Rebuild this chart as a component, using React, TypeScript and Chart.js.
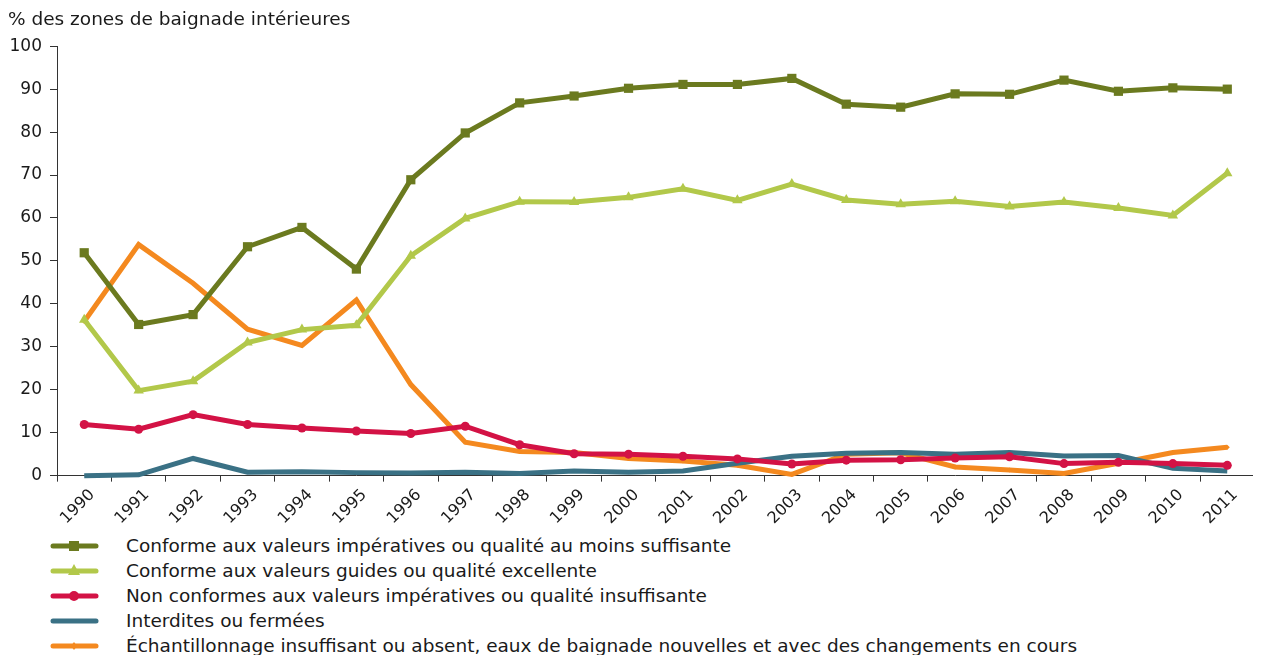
import React, { useEffect, useRef } from "react";
import { Chart, registerables } from "chart.js";

Chart.register(...registerables);

const years = ["1990","1991","1992","1993","1994","1995","1996","1997","1998","1999","2000","2001","2002","2003","2004","2005","2006","2007","2008","2009","2010","2011"];

const conformeImperatives = [51.9, 35.2, 37.5, 53.3, 57.8, 48.1, 68.9, 79.8, 86.8, 88.4, 90.2, 91.1, 91.1, 92.5, 86.5, 85.8, 88.9, 88.8, 92.1, 89.5, 90.3, 90.0];
const conformeGuides = [36.3, 19.8, 22.0, 31.0, 34.0, 35.0, 51.2, 59.9, 63.8, 63.7, 64.8, 66.8, 64.1, 67.9, 64.2, 63.2, 63.9, 62.7, 63.7, 62.3, 60.6, 70.4];
const nonConformes = [11.9, 10.8, 14.2, 11.9, 11.1, 10.4, 9.8, 11.5, 7.2, 5.1, 5.0, 4.5, 3.9, 2.7, 3.6, 3.7, 4.1, 4.4, 2.8, 3.1, 2.8, 2.4];
const interdites = [0.0, 0.2, 4.0, 0.8, 0.9, 0.7, 0.6, 0.8, 0.5, 1.1, 0.8, 1.1, 2.9, 4.5, 5.2, 5.4, 5.0, 5.4, 4.6, 4.7, 1.7, 1.1];
const echantillonnage = [35.9, 53.8, 44.8, 34.1, 30.3, 40.9, 21.2, 7.8, 5.6, 5.4, 4.0, 3.4, 2.4, 0.3, 5.0, 5.3, 2.0, 1.3, 0.5, 2.9, 5.4, 6.6];

const yTicks = [0, 10, 20, 30, 40, 50, 60, 70, 80, 90, 100];

const FONT = "'DejaVu Sans', Verdana, sans-serif";
const TEXT = "#1a1a1a";

const series = [
  { label: "Conforme aux valeurs impératives ou qualité au moins suffisante", data: conformeImperatives, color: "#6B7A1F", style: "rect", radius: 6.5 },
  { label: "Conforme aux valeurs guides ou qualité excellente", data: conformeGuides, color: "#B2C84A", style: "triangle", radius: 6 },
  { label: "Non conformes aux valeurs impératives ou qualité insuffisante", data: nonConformes, color: "#D31245", style: "circle", radius: 4.5 },
  { label: "Interdites ou fermées", data: interdites, color: "#3A7185", style: "circle", radius: 0 },
  { label: "Échantillonnage insuffisant ou absent, eaux de baignade nouvelles et avec des changements en cours", data: echantillonnage, color: "#F4891F", style: "rectRot", radius: 2.5 },
];

function LegendMarker({ color, style }: { color: string; style: string }) {
  let marker: React.ReactNode = null;
  if (style === "rect") marker = <rect x={19} y={5} width={10} height={10} fill={color} />;
  else if (style === "triangle") marker = <polygon points="24,3 30,14 18,14" fill={color} />;
  else if (style === "circle" && color === "#D31245") marker = <circle cx={24} cy={10} r={5} fill={color} />;
  else if (style === "rectRot") marker = <polygon points="24,6 27,10 24,14 21,10" fill={color} />;
  return (
    <svg width={50} height={20} style={{ display: "block" }}>
      <line x1={3} y1={10} x2={46} y2={10} stroke={color} strokeWidth={5} strokeLinecap="round" />
      {marker}
    </svg>
  );
}

export default function App() {
  const ref = useRef<HTMLCanvasElement | null>(null);

  useEffect(() => {
    if (!ref.current) return;
    const chart = new Chart(ref.current, {
      type: "line",
      data: {
        labels: years,
        datasets: series.map((s) => ({
          label: s.label,
          data: s.data,
          borderColor: s.color,
          backgroundColor: s.color,
          borderWidth: 5,
          pointStyle: s.style as any,
          pointRadius: s.radius,
          pointHoverRadius: s.radius,
          pointBorderWidth: 0,
          pointBackgroundColor: s.color,
          tension: 0,
          fill: false,
          clip: false as any,
        })),
      },
      options: {
        responsive: true,
        maintainAspectRatio: false,
        animation: false,
        layout: { padding: { left: 0, right: 4, top: 0, bottom: 0 } },
        plugins: {
          legend: { display: false },
          tooltip: { enabled: false },
          title: {
            display: true,
            text: "% des zones de baignade intérieures",
            align: "start",
            color: TEXT,
            font: { family: FONT, size: 18.5, weight: "normal" },
            padding: { top: 1, bottom: 15 },
          },
        },
        scales: {
          x: {
            offset: true,
            afterFit: (scale: any) => {
              scale.paddingLeft = 0;
              scale.paddingRight = 0;
            },
            grid: { display: true, drawOnChartArea: false, drawTicks: true, tickLength: 6, color: "#333", offset: true },
            border: { display: true, color: "#333", width: 1 },
            ticks: {
              color: TEXT,
              font: { family: FONT, size: 16 },
              minRotation: 45,
              maxRotation: 45,
              autoSkip: false,
              padding: 4,
              labelOffset: 8,
            },
          },
          y: {
            min: 0,
            max: 100,
            afterFit: (scale: any) => {
              scale.width = 49;
            },
            afterBuildTicks: (axis: any) => {
              axis.ticks = yTicks.map((v) => ({ value: v }));
            },
            grid: { display: true, drawOnChartArea: false, drawTicks: true, tickLength: 7, color: "#333" },
            border: { display: true, color: "#333", width: 1 },
            ticks: {
              color: TEXT,
              font: { family: FONT, size: 17 },
              padding: 8,
            },
          },
        },
      },
    });
    return () => chart.destroy();
  }, []);

  return (
    <div style={{ width: 1253, fontFamily: FONT, color: TEXT }}>
      <div style={{ position: "relative", width: 1253, height: 524 }}>
        <canvas ref={ref} />
      </div>
      <div style={{ marginTop: 1 }}>
        {series.map((s) => (
          <div key={s.label} style={{ display: "flex", alignItems: "center", height: 25, fontSize: 18.5 }}>
            <div style={{ width: 50, marginLeft: 42 }}>
              <LegendMarker color={s.color} style={s.style} />
            </div>
            <div style={{ marginLeft: 26, whiteSpace: "nowrap" }}>{s.label}</div>
          </div>
        ))}
      </div>
    </div>
  );
}
